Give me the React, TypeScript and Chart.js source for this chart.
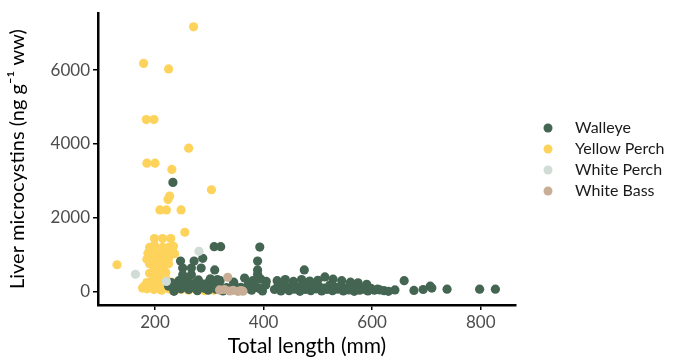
import React, { useEffect, useRef } from "react";
import { Chart, registerables } from "chart.js";

Chart.register(...registerables);

const seriesNames = ["Walleye", "Yellow Perch", "White Perch", "White Bass"];
const seriesColors = ["#446552", "#FDD35B", "#D2DCD7", "#C9AE97"];

// [total length (mm), liver microcystins (ng/g ww)]
const walleye: number[][] = [
  [233, 2960], [309, 1220], [321, 1220], [393, 1210], [389, 830], [389, 590], [389, 470],
  [247, 830], [272, 830], [288, 905], [251, 640], [267, 640], [285, 640], [251, 460], [267, 460],
  [310, 590], [475, 590], [235, 10], [236, 50],
  [260, 300], [280, 320], [300, 280], [320, 300], [345, 260], [365, 370], [380, 300], [395, 340],
  [405, 280], [425, 300], [440, 330], [455, 280], [470, 330], [485, 290], [500, 310], [513, 400],
  [528, 340], [544, 300], [560, 260], [574, 240], [590, 200], [659, 300], [707, 150],
  [240, 150], [248, 80], [255, 200], [262, 60], [270, 120], [278, 30], [285, 180], [292, 90],
  [298, 40], [305, 150], [312, 70], [318, 200], [325, 20], [332, 110], [338, 60], [345, 180],
  [352, 30], [358, 120], [365, 70], [372, 200], [378, 40], [385, 150], [392, 90], [398, 20],
  [404, 180], [420, 60], [426, 140], [432, 20], [437, 200], [442, 90], [447, 30], [452, 160],
  [457, 70], [462, 120], [467, 10], [472, 190], [477, 60], [482, 110], [487, 30], [492, 170],
  [497, 80], [502, 140], [507, 20], [512, 100], [517, 60], [522, 180], [527, 30], [532, 120],
  [537, 70], [542, 150], [547, 20], [552, 100], [557, 50], [562, 130], [567, 10], [572, 80],
  [577, 40], [582, 110], [587, 60], [592, 20], [598, 90], [604, 40], [610, 70], [614, 50],
  [622, 30], [630, 10], [642, 50], [677, 35], [694, 60], [710, 100], [738, 70], [798, 70], [827, 70],
  [225, 150], [230, 250], [244, 300], [258, 250], [275, 250], [290, 210], [302, 350], [315, 330],
];

const yellowPerch: number[][] = [
  [271, 7170], [179, 6180], [225, 6030], [184, 4660], [198, 4660], [262, 3885], [185, 3480],
  [200, 3480], [231, 3310], [304, 2760], [227, 2590], [224, 2495], [209, 2215], [221, 2215],
  [248, 2215], [255, 1610],
  [199, 1440], [214, 1440], [229, 1440], [199, 1260], [214, 1200], [234, 1230], [187, 1040],
  [205, 1040], [221, 1040], [236, 1030], [190, 970], [205, 960], [201, 820], [217, 790],
  [198, 690], [214, 680], [130, 730], [200, 640], [214, 640], [200, 410], [214, 420],
  [195, 300], [212, 280], [230, 260],
  [177, 100], [185, 80], [192, 120], [198, 60], [205, 100], [212, 40], [218, 130], [225, 80],
  [232, 50], [240, 110], [248, 60], [255, 140], [262, 40], [270, 100], [278, 60], [285, 150],
  [292, 30], [300, 80], [308, 40], [250, 200], [270, 200], [290, 200], [210, 180], [195, 200],
  [190, 1200], [225, 1200], [195, 1100], [215, 1100], [230, 1100], [185, 880], [210, 880],
  [225, 900], [190, 760], [225, 760], [205, 560], [190, 500], [220, 520], [205, 350], [220, 350],
  [185, 250], [200, 200], [225, 210], [240, 180], [180, 150], [200, 150],
];

const whitePerch: number[][] = [[164, 470], [281, 1095], [221, 280]];

const whiteBass: number[][] = [
  [319, 50], [328, 60], [334, 390], [338, 20], [344, 40], [353, 10], [358, 30], [362, 15],
];

const xTicks = [200, 400, 600, 800];
const yTicks = [0, 2000, 4000, 6000];
const xTitle = "Total length (mm)";
const yTitle = "Liver microcystins (ng g\u207B\u00B9 ww)";

const FONT = "Lato, 'Open Sans', sans-serif";

const legendPlugin = {
  id: "customLegend",
  afterDraw(chart: any) {
    const ctx = chart.ctx;
    const x0 = 548;
    const y0 = 128;
    const gap = 21;
    ctx.save();
    ctx.font = `16px ${FONT}`;
    ctx.textBaseline = "middle";
    ctx.textAlign = "left";
    seriesNames.forEach((name, i) => {
      const y = y0 + i * gap;
      ctx.beginPath();
      ctx.arc(x0, y, 4.5, 0, Math.PI * 2);
      ctx.fillStyle = seriesColors[i];
      ctx.fill();
      ctx.fillStyle = "#1a1a1a";
      ctx.fillText(name, x0 + 27, y);
    });
    ctx.restore();
  },
};

export default function App() {
  const ref = useRef<HTMLCanvasElement>(null);
  useEffect(() => {
    if (!ref.current) return;
    const sets = [walleye, yellowPerch, whitePerch, whiteBass];
    const orders = [2, 3, 1, 0];
    const chart = new Chart(ref.current, {
      type: "scatter",
      data: {
        datasets: sets.map((s, i) => ({
          label: seriesNames[i],
          data: s.map(([x, y]) => ({ x, y })),
          backgroundColor: seriesColors[i],
          borderColor: seriesColors[i],
          borderWidth: 0,
          pointRadius: 4.6,
          pointHoverRadius: 4.6,
          order: orders[i],
        })),
      },
      options: {
        responsive: false,
        animation: false,
        layout: { padding: { top: 12, right: 159, left: 0, bottom: 0 } },
        plugins: { legend: { display: false }, tooltip: { enabled: false } },
        scales: {
          x: {
            type: "linear",
            min: 95,
            max: 865,
            afterBuildTicks: (axis: any) => {
              axis.ticks = xTicks.map((v) => ({ value: v }));
            },
            afterFit: (axis: any) => {
              axis.height = 54;
            },
            grid: { drawOnChartArea: false, drawTicks: true, tickLength: 5, color: "#000", lineWidth: 1.5 },
            border: { display: true, color: "#000", width: 2.5 },
            ticks: { color: "#4D4D4D", font: { family: FONT, size: 17 }, padding: 2, maxRotation: 0, callback: (v: any) => String(v) },
            title: { display: true, text: xTitle, color: "#000", font: { family: FONT, size: 21 }, padding: { top: 0, bottom: 0 } },
          },
          y: {
            type: "linear",
            min: -359,
            max: 7539,
            afterBuildTicks: (axis: any) => {
              axis.ticks = yTicks.map((v) => ({ value: v }));
            },
            afterFit: (axis: any) => {
              axis.width = 98;
            },
            grid: { drawOnChartArea: false, drawTicks: true, tickLength: 5, color: "#000", lineWidth: 1.5 },
            border: { display: true, color: "#000", width: 2.5 },
            ticks: { color: "#4D4D4D", font: { family: FONT, size: 17 }, padding: 3, callback: (v: any) => String(v) },
            title: { display: true, text: yTitle, color: "#000", font: { family: FONT, size: 20 }, padding: { top: 6, bottom: 0 } },
          },
        },
      },
      plugins: [legendPlugin],
    });
    return () => chart.destroy();
  }, []);
  return (
    <div style={{ position: "fixed", left: 0, top: 0, width: 675, height: 359, background: "#fff" }}>
      <canvas ref={ref} width={675} height={359} />
    </div>
  );
}
